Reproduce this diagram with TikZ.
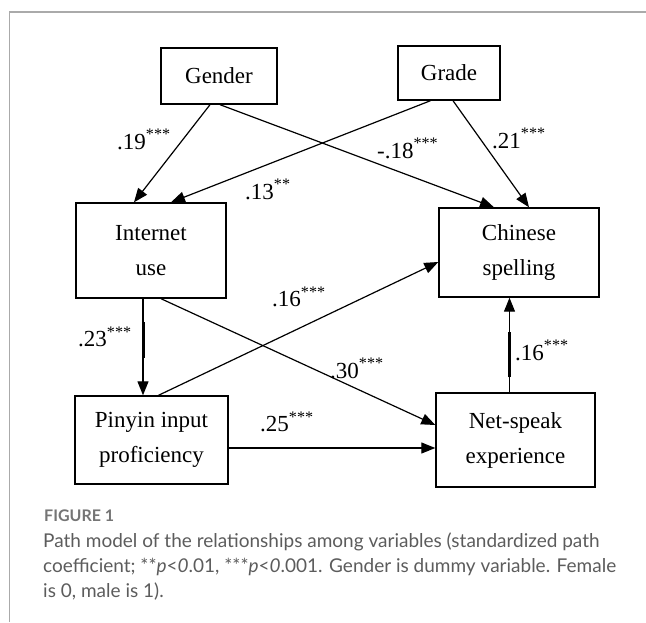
\documentclass[tikz,border=0pt]{standalone}
\usepackage{fontspec}
\setmainfont{Liberation Serif}
\newfontfamily\capfont{Lato}
\usetikzlibrary{arrows.meta,calc}
\definecolor{capgray}{HTML}{5C5C5C}
\definecolor{framegray}{HTML}{AAAAAA}
\newcommand{\sig}[1]{\textsuperscript{#1}}

\begin{document}
\begin{tikzpicture}[x=1pt,y=-1pt,
  varbox/.style={draw,line width=1.4pt,align=center,inner sep=0pt,
    font=\fontsize{23}{35}\selectfont},
  coef/.style={anchor=base west,inner sep=0pt,font=\fontsize{23}{28}\selectfont},
  path arrow/.style={line width=1.2pt,-{Triangle[length=14pt,width=11pt]}}]
\useasboundingbox (0,0) rectangle (646,622);
\draw[framegray,line width=1.3pt] (9.5,622) |- (646,12);

% variables
\node[varbox,minimum width=116pt,minimum height=56pt] (gender) at (219,76) {Gender};
\node[varbox,minimum width=102pt,minimum height=54pt] (grade) at (449,73) {Grade};
\node[varbox,minimum width=150pt,minimum height=95pt] (inet) at (151,250.5) {Internet\\use};
\node[varbox,minimum width=160pt,minimum height=89pt] (spell) at (519,252.5) {Chinese\\spelling};
\node[varbox,minimum width=153pt,minimum height=88pt] (pinyin) at (151.5,440) {Pinyin input\\proficiency};
\node[varbox,minimum width=159pt,minimum height=94pt] (netspeak) at (515.5,440) {Net-speak\\experience};

% paths
\path[path arrow]
([xshift=-9pt]gender.south) edge ([xshift=-17pt]inet.north)
([xshift=1pt]gender.south) edge ([xshift=-25pt]spell.north)
([xshift=-18.5pt]grade.south) edge ([xshift=20pt]inet.north)
([xshift=4pt]grade.south) edge ([xshift=10pt]spell.north)
([xshift=10pt]inet.south) edge ([yshift=15pt]netspeak.west)
([xshift=7pt]pinyin.north) edge ([yshift=-9.5pt]spell.west)
([xshift=-8pt]inet.south) edge ([xshift=-8pt]inet.south |- pinyin.north)
([yshift=-8pt]pinyin.east) edge ([yshift=-8pt]pinyin.east -| netspeak.west)
([xshift=-6pt]netspeak.north) edge ([xshift=-6pt]netspeak.north |- spell.south)
;
\draw[line width=3pt] ($([xshift=-8pt]inet.south)+(0,23.5)$) -- +(0,36);
\draw[line width=3pt] ($([xshift=-6pt]netspeak.north)+(0,-15)$) -- +(0,-45);

% coefficients
\node[coef] (c19) at (117,149) {.19\sig{***}};
\node[coef] (c18) at (377,158) {-.18\sig{***}};
\node[coef] (c21) at (492,148) {.21\sig{***}};
\node[coef] (c13) at (245,199) {.13\sig{**}};
\node[coef] (c16a) at (272,306.5) {.16\sig{***}};
\node[coef] (c23) at (78,346.5) {.23\sig{***}};
\node[coef] (c30) at (330,378) {.30\sig{***}};
\node[coef] (c16b) at (515,360) {.16\sig{***}};
\node[coef] (c25) at (260,431.5) {.25\sig{***}};

% caption
\node[anchor=base west,inner sep=0pt,text=capgray!85,font=\capfont\bfseries\fontsize{16}{18}\selectfont] (figno) at (44,521.5) {FIGURE 1};
\node[anchor=base west,inner sep=0pt,align=left,text=capgray,font=\capfont\fontsize{19}{25}\selectfont] (caption) at (43,597.5)
{Path model of the relationships among variables (standardized path\\
coefficient; **\textit{p}<\textit{0}.01, ***\textit{p}<\textit{0}.001. Gender is dummy variable. Female\\
is 0, male is 1).};
\end{tikzpicture}
\end{document}
